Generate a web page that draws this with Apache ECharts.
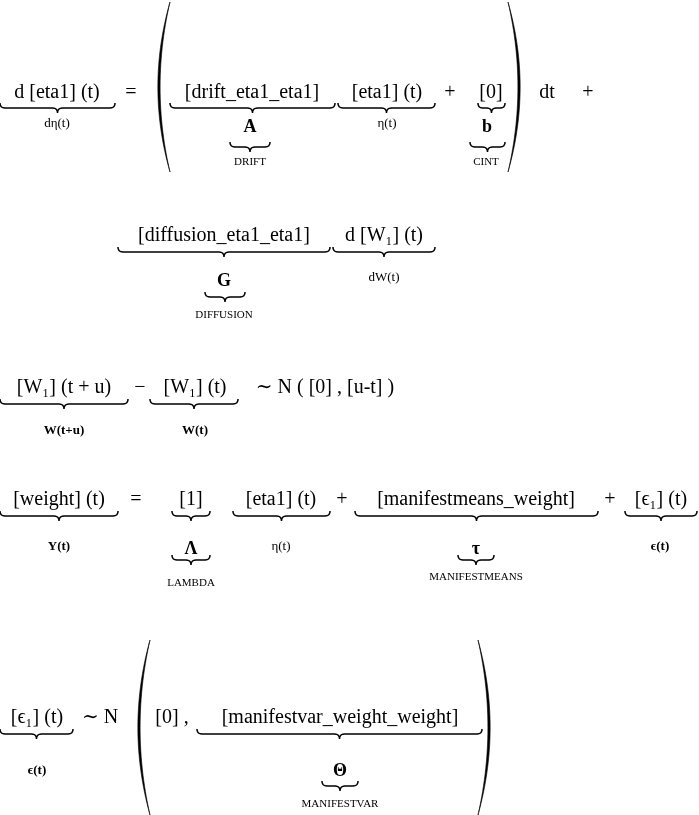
<!DOCTYPE html>
<html><head><meta charset="utf-8">
<script src="https://cdn.jsdelivr.net/npm/echarts@6/dist/echarts.min.js"></script>
<style>html,body{margin:0;padding:0;background:#fff}#c{width:699px;height:815px}</style>
</head><body><div id="c"></div>
<script>
// Main terms: [text, centerX, middleY, fontSize]
const terms = [
 ["d [eta1] (t)",57,93,20],["=",131,93,20],
 ["[drift_eta1_eta1]",252,93,20],["[eta1] (t)",387,93,20],["+",450,93,20],["[0]",491,93,20],
 ["dt",547,93,20],["+",588,93,20],
 ["[diffusion_eta1_eta1]",224,236,20],["d [W\u2081] (t)",384,236,20],
 ["[W\u2081] (t + u)",64,388,20],["\u2212",140,388,20],["[W\u2081] (t)",195,388,20],["\u223C N ( [0] , [u-t] )",325,388,20],
 ["[weight] (t)",59,500,20],["=",136,500,20],["[1]",191,500,20],["[eta1] (t)",281,500,20],["+",342,500,20],
 ["[manifestmeans_weight]",476,500,20],["+",610,500,20],["[\u03F5\u2081] (t)",661,500,20],
 ["[\u03F5\u2081] (t)",37,718,20],["\u223C N",100,718,20],["[0] ,",172,718,20],["[manifestvar_weight_weight]",340,718,20]
];
// Underbraces: [x1, x2, y]
const braces = [
 [0,115,108],[170,335,108],[338,435,108],[478,505,108],[230,270,147],[470,505,147],
 [118,330,252],[333,435,252],[205,245,297],
 [0,128,404],[150,238,404],
 [0,118,516],[172,210,516],[233,330,516],[355,598,516],[625,697,516],[172,210,560],[458,494,560],
 [0,73,734],[197,482,734],[322,358,786]
];
// Labels under braces: [text, cx, middleY, size, bold]
const labels = [
 ["d\u03B7(t)",57,124,13,0],["A",250,127,18,1],["DRIFT",250,162,11,0],["\u03B7(t)",387,124,13,0],["b",487,127,18,1],["CINT",486,162,11,0],
 ["G",224,281,18,1],["DIFFUSION",224,315,11,0],["dW(t)",384,278,13,0],
 ["W(t+u)",64,431,13,1],["W(t)",195,431,13,1],
 ["Y(t)",59,547,13,1],["\u039B",191,549,18,1],["LAMBDA",191,583,11,0],["\u03B7(t)",281,547,13,0],
 ["\u03C4",476,549,18,1],["MANIFESTMEANS",476,577,11,0],["\u03F5(t)",660,547,13,1],
 ["\u03F5(t)",37,771,13,1],["\u0398",340,771,18,1],["MANIFESTVAR",340,804,11,0]
];
// Big parens: [x, top, bottom, dir]
const parens = [[170,2,172,-1],[508,2,172,1],[150,640,815,-1],[478,640,815,1]];

const g = [];
const font = '"Liberation Serif","DejaVu Serif",serif';
terms.forEach(t=>g.push({type:'text',x:t[1],y:t[2],style:{text:t[0],font:t[3]+'px '+font,fill:'#000',textAlign:'center',textVerticalAlign:'middle'}}));
labels.forEach(t=>g.push({type:'text',x:t[1],y:t[2],style:{text:t[0],font:(t[4]?'bold ':'')+t[3]+'px '+font,fill:'#000',textAlign:'center',textVerticalAlign:'middle'}}));
function quad(p0,p1,p2,n){const o=[];for(let i=0;i<=n;i++){const s=i/n,a=(1-s)*(1-s),b=2*s*(1-s),c=s*s;o.push([a*p0[0]+b*p1[0]+c*p2[0],a*p0[1]+b*p1[1]+c*p2[1]]);}return o;}
braces.forEach(b=>{const [x1,x2,y]=b,m=(x1+x2)/2,r=Math.min(5,(x2-x1)/6);
 const pts=[].concat(quad([x1,y-5],[x1,y],[x1+r,y],6),quad([m-r,y],[m,y],[m,y+5],6),quad([m,y+5],[m,y],[m+r,y],6),quad([x2-r,y],[x2,y],[x2,y-5],6));
 g.push({type:'polyline',shape:{points:pts},style:{stroke:'#000',lineWidth:1.5,fill:null}});});
parens.forEach(p=>{const [x,t,b,d]=p,mid=(t+b)/2,w=18*d;
 const outer=quad([x,t],[x+w*1.35,mid],[x,b],30), inner=quad([x,b],[x+w*1.1,mid],[x,t],30);
 g.push({type:'polygon',shape:{points:outer.concat(inner)},style:{fill:'#000',stroke:'#000',lineWidth:0.6}});});

const chart = echarts.init(document.getElementById('c'));
chart.setOption({backgroundColor:'#fff',graphic:g});
</script></body></html>
